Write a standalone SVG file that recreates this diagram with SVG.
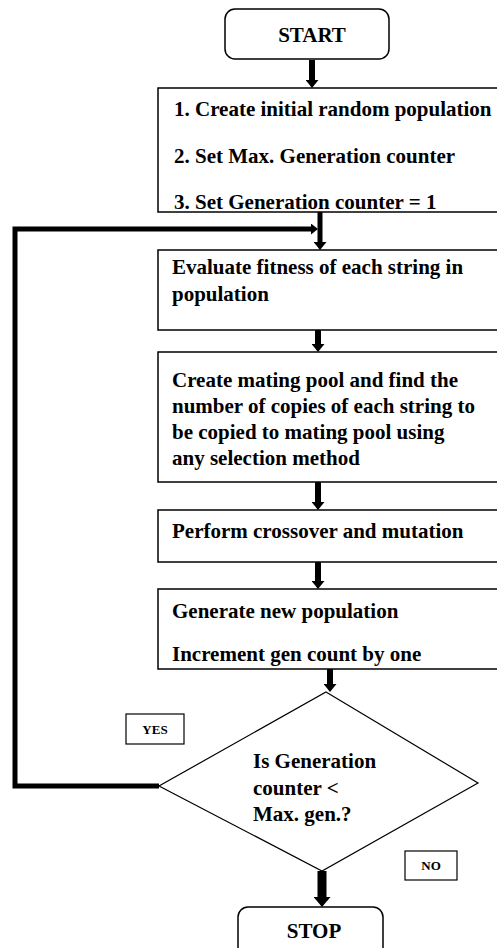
<svg xmlns="http://www.w3.org/2000/svg" width="497" height="948" viewBox="0 0 497 948">
  <style>
    .box { fill: #ffffff; stroke: #000000; stroke-width: 1.5; }
    .t { font-family: "Liberation Serif", "Times New Roman", serif; font-weight: bold; font-size: 21px; fill: #000000; }
    .s { font-size: 13px; }
    .c { text-anchor: middle; }
    .arr { stroke: #000000; stroke-width: 6; fill: none; }
    .fb { stroke: #000000; stroke-width: 5; fill: none; }
    .big { stroke: #000000; stroke-width: 9; fill: none; }
  </style>
  <defs>
    <marker id="ah" viewBox="0 0 8 13" refX="0" refY="6.5" markerWidth="8" markerHeight="13" markerUnits="userSpaceOnUse" orient="auto">
      <path d="M0,0 L8,6.5 L0,13 z" fill="#000000"/>
    </marker>
    <marker id="ahs" viewBox="0 0 7 11" refX="0" refY="5.5" markerWidth="7" markerHeight="11" markerUnits="userSpaceOnUse" orient="auto">
      <path d="M0,0 L7,5.5 L0,11 z" fill="#000000"/>
    </marker>
    <marker id="ahb" viewBox="0 0 10 17" refX="0" refY="8.5" markerWidth="10" markerHeight="17" markerUnits="userSpaceOnUse" orient="auto">
      <path d="M0,0 L10,8.5 L0,17 z" fill="#000000"/>
    </marker>
  </defs>
  <rect width="497" height="948" fill="#ffffff"/>

  <g id="start">
    <rect class="box" x="225" y="9" width="164" height="50" rx="10" ry="10"/>
    <text class="t c" x="312" y="42">START</text>
  </g>

  <g id="init">
    <rect class="box" x="158" y="88" width="360" height="124"/>
    <text class="t" x="174" y="116">1. Create initial random population</text>
    <text class="t" x="174" y="163">2. Set Max. Generation counter</text>
    <text class="t" x="174" y="209">3. Set Generation counter = 1</text>
  </g>

  <g id="evaluate">
    <rect class="box" x="158" y="250" width="360" height="80"/>
    <text class="t" x="172" y="274">Evaluate fitness of each string in</text>
    <text class="t" x="172" y="301">population</text>
  </g>

  <g id="mating">
    <rect class="box" x="158" y="352" width="360" height="130"/>
    <text class="t" x="172" y="387">Create mating pool and find the</text>
    <text class="t" x="172" y="413">number of copies of each string to</text>
    <text class="t" x="172" y="439">be copied to mating pool using</text>
    <text class="t" x="172" y="465">any selection method</text>
  </g>

  <g id="crossover">
    <rect class="box" x="158" y="510" width="360" height="52"/>
    <text class="t" x="172" y="538">Perform crossover and mutation</text>
  </g>

  <g id="newpop">
    <rect class="box" x="158" y="589" width="360" height="80"/>
    <text class="t" x="172" y="618">Generate new population</text>
    <text class="t" x="172" y="661">Increment gen count by one</text>
  </g>

  <g id="decision">
    <polygon points="326,692 478,783 322,871 159,786" fill="#ffffff" stroke="#000000" stroke-width="1.2"/>
    <text class="t" x="253" y="768">Is Generation</text>
    <text class="t" x="253" y="795">counter &lt;</text>
    <text class="t" x="253" y="821">Max. gen.?</text>
  </g>

  <g id="stop">
    <rect class="box" x="238" y="907" width="145" height="70" rx="10" ry="10"/>
    <text class="t c" x="314" y="938">STOP</text>
  </g>

  <g id="label-yes">
    <rect x="126" y="714" width="58" height="30" fill="#ffffff" stroke="#000000" stroke-width="1.2"/>
    <text class="t s c" x="155" y="734">YES</text>
  </g>

  <g id="label-no">
    <rect x="405" y="851" width="52" height="29" fill="#ffffff" stroke="#000000" stroke-width="1.2"/>
    <text class="t s c" x="431" y="870">NO</text>
  </g>

  <g id="connectors">
    <line class="arr" x1="312" y1="60" x2="312" y2="80" marker-end="url(#ah)"/>
    <line class="fb" x1="320" y1="212" x2="320" y2="242" marker-end="url(#ah)"/>
    <polyline class="fb" points="159,786 15,786 15,229 311,229" marker-end="url(#ahs)"/>
    <line class="arr" x1="318" y1="330" x2="318" y2="344" marker-end="url(#ah)"/>
    <line class="arr" x1="318" y1="482" x2="318" y2="502" marker-end="url(#ah)"/>
    <line class="arr" x1="318" y1="562" x2="318" y2="581" marker-end="url(#ah)"/>
    <line class="arr" x1="330" y1="669" x2="330" y2="684" marker-end="url(#ah)"/>
    <line class="big" x1="322" y1="871" x2="322" y2="897" marker-end="url(#ahb)"/>
  </g>
</svg>
